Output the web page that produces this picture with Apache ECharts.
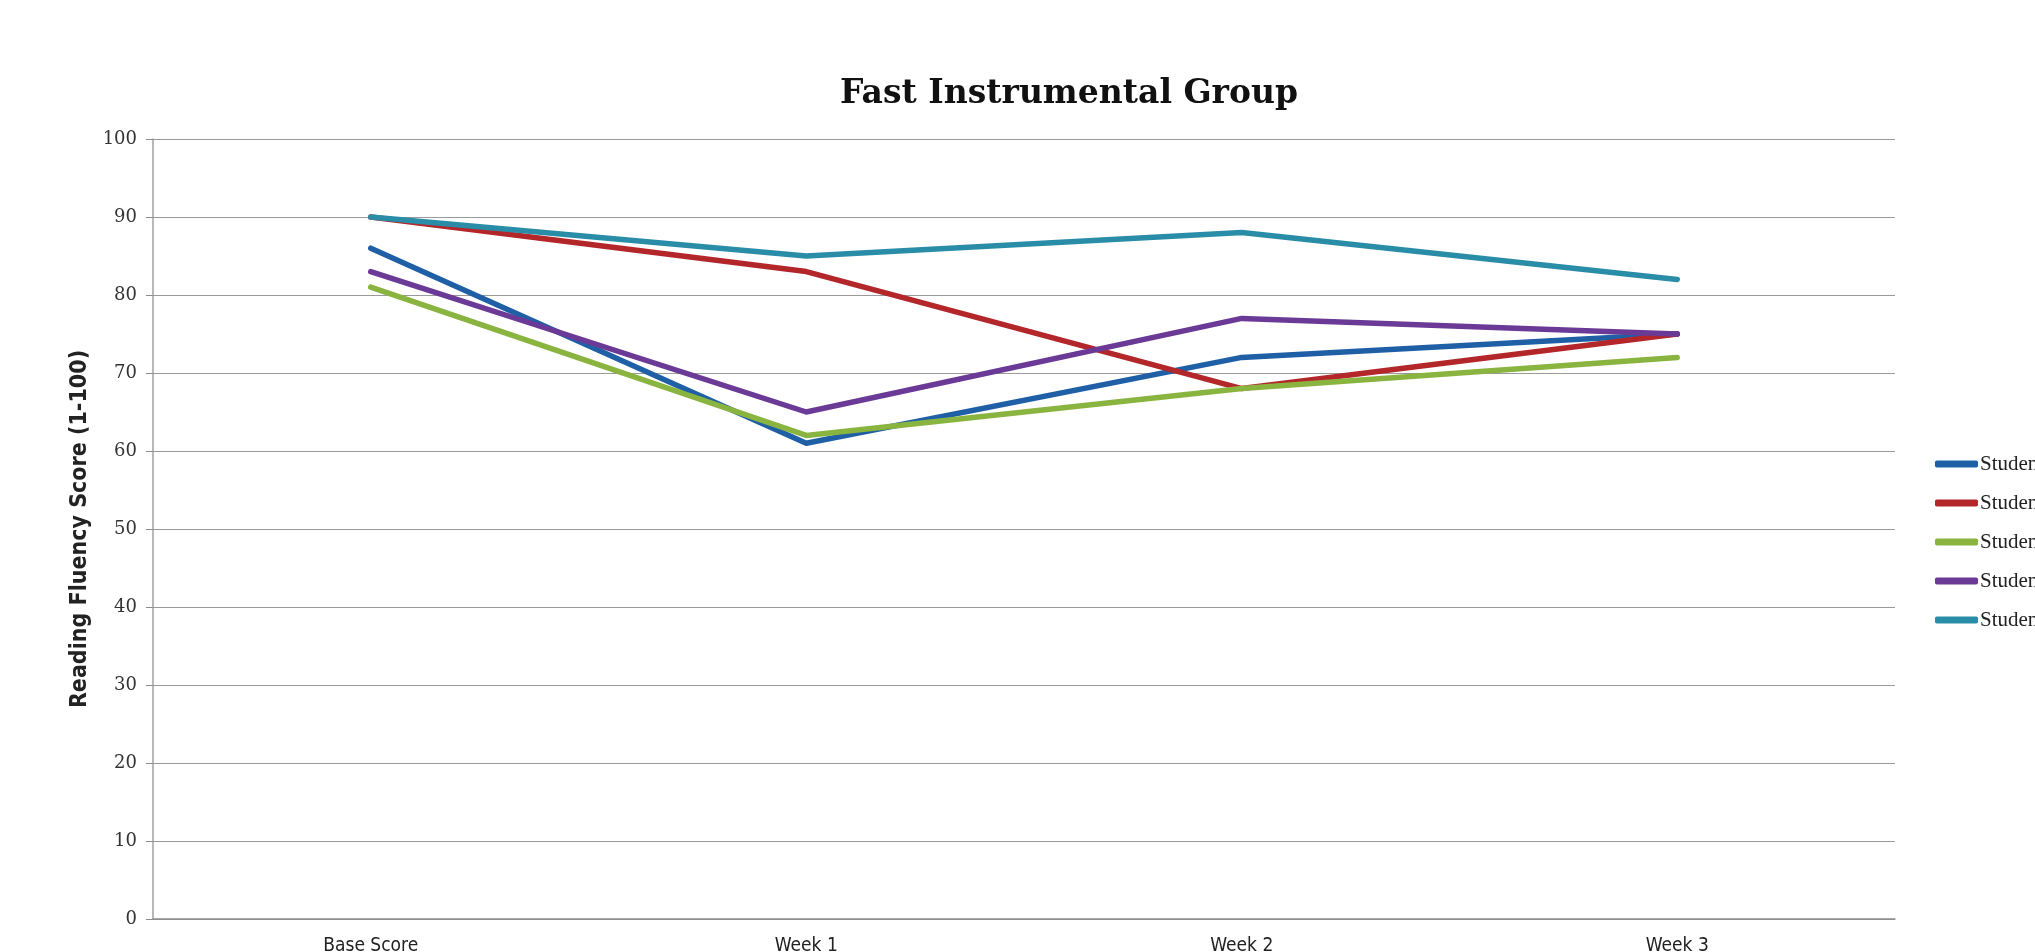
<!DOCTYPE html>
<html>
<head>
<meta charset="utf-8">
<script src="https://cdn.jsdelivr.net/npm/echarts@6/dist/echarts.min.js"></script>
<style>
  html, body { margin: 0; padding: 0; background: #ffffff; }
  #chart { width: 2035px; height: 952px; }
</style>
</head>
<body>
<div id="chart"></div>
<script>
// Reading fluency scores for each student across the weekly check-ins
const categories = ['Base Score', 'Week 1', 'Week 2', 'Week 3'];
const studentNames = ['Student 1', 'Student 2', 'Student 3', 'Student 4', 'Student 5'];
const student1 = [86, 61, 72, 75];
const student2 = [90, 83, 68, 75];
const student3 = [81, 62, 68, 72];
const student4 = [83, 65, 77, 75];
const student5 = [90, 85, 88, 82];
const yTicks = [0, 10, 20, 30, 40, 50, 60, 70, 80, 90, 100];

const seriesValues = [student1, student2, student3, student4, student5];
const seriesColors = ['#1f5fa6', '#b3262a', '#8ab440', '#6b3a96', '#2a8da8'];

const chart = echarts.init(document.getElementById('chart'), null, { renderer: 'canvas' });

chart.setOption({
  backgroundColor: '#ffffff',
  animation: false,
  title: {
    text: 'Fast Instrumental Group',
    left: 1064,
    textAlign: 'center',
    top: 73,
    textStyle: {
      fontFamily: 'DejaVu Serif, Liberation Serif, serif',
      fontWeight: 'bold',
      fontSize: 33,
      color: '#111111'
    }
  },
  legend: {
    orient: 'vertical',
    left: 1930,
    top: 447,
    icon: 'roundRect',
    itemWidth: 43,
    itemHeight: 7,
    itemGap: 15,
    data: studentNames,
    textStyle: {
      fontFamily: 'Liberation Serif, DejaVu Serif, serif',
      fontSize: 21,
      lineHeight: 24,
      color: '#222222',
      padding: [0, 0, 0, -3]
    }
  },
  grid: {
    left: 153,
    right: 140,
    top: 139,
    bottom: 33,
    containLabel: false,
    outerBoundsMode: 'none'
  },
  xAxis: {
    type: 'category',
    data: categories,
    boundaryGap: true,
    axisLine: { lineStyle: { color: '#8c8c8c', width: 1.5 } },
    axisTick: { show: false },
    axisLabel: {
      margin: 18,
      fontFamily: 'DejaVu Sans Condensed, Liberation Sans, sans-serif',
      fontSize: 19,
      color: '#222222'
    }
  },
  yAxis: {
    type: 'value',
    min: yTicks[0],
    max: yTicks[yTicks.length - 1],
    interval: 10,
    name: 'Reading Fluency Score (1-100)',
    nameLocation: 'middle',
    nameGap: 60,
    nameTextStyle: {
      fontFamily: 'DejaVu Sans Condensed, Liberation Sans, sans-serif',
      fontWeight: 'bold',
      fontSize: 23,
      color: '#222222'
    },
    axisLine: { show: true, lineStyle: { color: '#a0a0a0', width: 1.5 } },
    axisTick: { show: true, length: 7, lineStyle: { color: '#8c8c8c' } },
    axisLabel: {
      margin: 16,
      fontFamily: 'DejaVu Serif, Liberation Serif, serif',
      fontSize: 18,
      color: '#333333'
    },
    splitLine: { show: true, lineStyle: { color: '#9a9a9a', width: 1.2 } }
  },
  series: studentNames.map((name, i) => ({
    name: name,
    type: 'line',
    data: seriesValues[i],
    symbol: 'none',
    smooth: false,
    color: seriesColors[i],
    lineStyle: { width: 5.5, color: seriesColors[i], cap: 'round', join: 'round' }
  }))
});
</script>
</body>
</html>
